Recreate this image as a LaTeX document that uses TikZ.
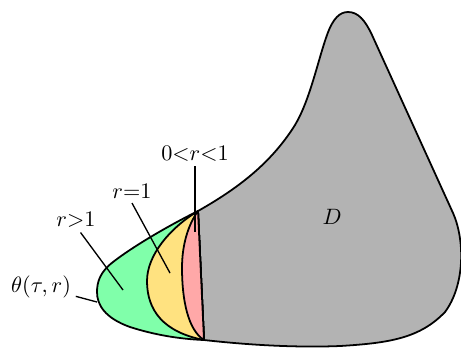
\documentclass[tikz,border=0pt]{standalone}
\usepackage{amsmath, amssymb}
\usepackage{xcolor}
\usepackage{tikz}
\usetikzlibrary{positioning, calc}

\definecolor{regD}{RGB}{179,179,179}
\definecolor{regG}{RGB}{128,255,170}
\definecolor{regY}{RGB}{255,226,128}
\definecolor{regP}{RGB}{255,168,168}

\begin{document}
\begin{tikzpicture}[x=0.45pt, y=-0.45pt,
  region/.style={draw=black, thick, line join=round},
  lbl/.style={inner sep=2pt},
  pointer/.style={semithick, draw=black}
]
  \useasboundingbox (0,0) rectangle (461,347);
  \coordinate (T) at (198,211);
  \coordinate (B) at (204,340);

  % domain D
  \filldraw[region, fill=regD] (T) .. controls (235,190) and (270,165) .. (295,125)
    .. controls (310,100) and (318,60) .. (327,35)
    .. controls (333,18) and (340,12) .. (348,12)
    .. controls (358,12) and (365,20) .. (372,35) -- (453,213)
    .. controls (465,240) and (465,285) .. (445,312)
    .. controls (420,338) and (390,343) .. (340,346)
    .. controls (290,348) and (240,344) .. (B) -- cycle;

  % regions r>1, r=1, 0<r<1
  \filldraw[region, fill=regG] (T) .. controls (170,225) and (135,245) .. (113,262)
    .. controls (100,272) and (97,282) .. (97,292)
    .. controls (97,305) and (105,318) .. (130,327)
    .. controls (155,335) and (180,339) .. (B) -- cycle;
  \filldraw[region, fill=regY] (T) .. controls (170,228) and (147,255) .. (147,281)
    .. controls (147,310) and (163,332) .. (B) -- cycle;
  \filldraw[region, fill=regP] (T) .. controls (188,225) and (182,245) .. (182,268)
    .. controls (182,300) and (188,330) .. (B) -- cycle;

  % labels
  \node (D) at (332,217) {$D$};
  \node[lbl] (lblpink) at (195,154) {$0{<}r{<}1$};
  \node[lbl] (lblyel) at (132,191) {$r{=}1$};
  \node[lbl] (lblgrn) at (76,220) {$r{>}1$};
  \node[lbl] (lbltheta) at (41,287) {$\theta(\tau,r)$};

  \coordinate (ppink) at (195,232);
  \coordinate (pyel) at (170,273);
  \coordinate (pgrn) at (123,290);
  \coordinate (pbnd) at (97,302);

  \draw[pointer] (lblpink.south) -- (ppink);
  \draw[pointer] (lblyel.south) -- (pyel);
  \draw[pointer] (lblgrn.290) -- (pgrn);
  \draw[pointer] (lbltheta.-15) -- (pbnd);
\end{tikzpicture}
\end{document}
